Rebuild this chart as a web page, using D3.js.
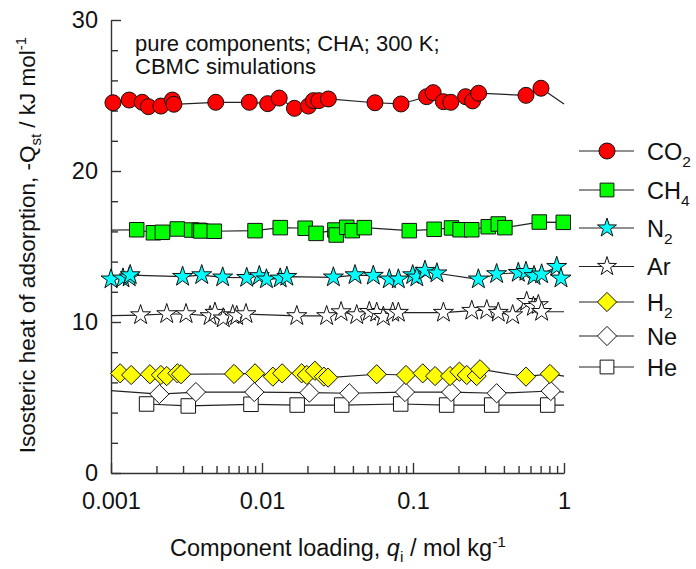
<!DOCTYPE html>
<html>
<head>
<meta charset="utf-8">
<script src="https://cdn.jsdelivr.net/npm/d3@7"></script>
<style>
  html, body { margin: 0; padding: 0; background: #fff; }
  svg { display: block; font-family: "Liberation Sans", Arial, sans-serif; }
</style>
</head>
<body>
<div id="chart"></div>
<script>
// gases, in legend order
const gases = ["CO2", "CH4", "N2", "Ar", "H2", "Ne", "He"];

// component loading q (mol/kg) and isosteric heat -Qst (kJ/mol)
const co2Load = [0.00103, 0.00132, 0.00161, 0.00177, 0.00214, 0.00255, 0.00261, 0.00494, 0.00824, 0.0109, 0.0130, 0.0164, 0.0203, 0.0219, 0.0238, 0.0275, 0.0560, 0.0833, 0.123, 0.136, 0.159, 0.178, 0.223, 0.248, 0.272, 0.560, 0.704];
const co2Heat = [24.52, 24.70, 24.55, 24.26, 24.30, 24.70, 24.42, 24.55, 24.55, 24.46, 24.83, 24.15, 24.30, 24.66, 24.66, 24.77, 24.52, 24.44, 24.92, 25.19, 24.59, 24.55, 24.92, 24.64, 25.15, 25.01, 25.48];

const ch4Load = [0.00148, 0.00191, 0.00219, 0.00275, 0.00342, 0.00384, 0.00394, 0.00483, 0.00899, 0.0132, 0.0193, 0.0228, 0.0304, 0.0310, 0.0364, 0.0396, 0.0476, 0.0945, 0.138, 0.180, 0.205, 0.245, 0.315, 0.367, 0.406, 0.686, 0.989];
const ch4Heat = [16.11, 15.91, 15.94, 16.16, 16.09, 16.07, 16.03, 16.01, 16.05, 16.25, 16.21, 15.87, 16.09, 15.76, 16.27, 16.05, 16.25, 16.05, 16.14, 16.23, 16.11, 16.11, 16.31, 16.49, 16.25, 16.62, 16.60];

const n2Load = [0.00100, 0.00120, 0.00132, 0.00134, 0.00298, 0.00399, 0.00549, 0.00792, 0.00960, 0.0107, 0.0132, 0.0146, 0.0297, 0.0413, 0.0546, 0.0697, 0.0800, 0.0995, 0.106, 0.120, 0.144, 0.271, 0.358, 0.498, 0.560, 0.633, 0.711, 0.895, 0.955];
const n2Heat = [12.83, 12.89, 12.96, 13.11, 13.00, 13.11, 12.96, 12.93, 13.05, 12.83, 12.89, 13.00, 12.96, 13.11, 13.07, 12.83, 12.83, 13.11, 12.96, 13.40, 13.23, 12.83, 13.18, 13.26, 13.33, 13.05, 13.16, 13.66, 12.89];

const arLoad = [0.00157, 0.00234, 0.00314, 0.00453, 0.00488, 0.00554, 0.00640, 0.00680, 0.00783, 0.0170, 0.0268, 0.0334, 0.0424, 0.0514, 0.0575, 0.0636, 0.0734, 0.0800, 0.159, 0.245, 0.308, 0.367, 0.457, 0.566, 0.627, 0.676, 0.711];
const arHeat = [10.46, 10.53, 10.53, 10.40, 10.62, 10.25, 10.46, 10.40, 10.53, 10.40, 10.40, 10.66, 10.46, 10.68, 10.62, 10.35, 10.62, 10.62, 10.62, 10.75, 10.79, 10.62, 10.46, 11.34, 11.01, 11.13, 10.68];

const h2Load = [0.00115, 0.00136, 0.00181, 0.00214, 0.00234, 0.00275, 0.00291, 0.00653, 0.00899, 0.0118, 0.0136, 0.0183, 0.0198, 0.0224, 0.0257, 0.0274, 0.0575, 0.0899, 0.116, 0.140, 0.176, 0.203, 0.227, 0.264, 0.278, 0.560, 0.807];
const h2Heat = [6.60, 6.49, 6.54, 6.49, 6.42, 6.60, 6.54, 6.56, 6.60, 6.38, 6.60, 6.60, 6.49, 6.77, 6.38, 6.32, 6.54, 6.49, 6.60, 6.42, 6.42, 6.71, 6.49, 6.42, 6.87, 6.38, 6.56];

const neLoad = [0.00209, 0.00365, 0.00889, 0.0206, 0.0379, 0.0885, 0.179, 0.358, 0.817];
const neHeat = [5.23, 5.36, 5.36, 5.32, 5.28, 5.36, 5.36, 5.28, 5.43];

const heLoad = [0.00172, 0.00325, 0.00845, 0.0171, 0.0337, 0.0829, 0.167, 0.332, 0.780];
const heHeat = [4.57, 4.44, 4.55, 4.50, 4.50, 4.57, 4.50, 4.50, 4.50];

// where the connecting line runs on past the first / last marker: [q, -Qst] or null
const lineStart = [null, [0.001, 16.09], null, [0.001, 10.42], null, [0.001, 5.45], null];
const lineEnd = [[1, 24.44], [1.1, 16.6], [1.1, 13.07], [1, 10.68], [1, 6.42], [1, 5.36], [1, 4.50]];

const xMajor = [0.001, 0.01, 0.1, 1];
const yMajor = [0, 10, 20, 30];

const loads = [co2Load, ch4Load, n2Load, arLoad, h2Load, neLoad, heLoad];
const heats = [co2Heat, ch4Heat, n2Heat, arHeat, h2Heat, neHeat, heHeat];

// look of each series
const fills = ["#ff0000", "#00ff00", "#00ffff", "#ffffff", "#ffff00", "#ffffff", "#ffffff"];
const shapes = ["circle", "square", "star", "star", "diamond", "diamond", "square"];

const width = 696, height = 569;
const x0 = 111, x1 = 564, yTop = 20, yBot = 473;

const svg = d3.select("#chart").append("svg")
  .attr("width", width)
  .attr("height", height);

const x = d3.scaleLog().domain([0.001, 1]).range([x0, x1]);
const y = d3.scaleLinear().domain([0, 30]).range([yBot, yTop]);

// marker path generator
function markerPath(shape, big) {
  const k = big ? 1 : 0.9;
  if (shape === "circle") return d3.symbol(d3.symbolCircle, Math.PI * 8 * 8)();
  if (shape === "square") return d3.symbol(d3.symbolSquare, 14.5 * 14.5 * k)();
  if (shape === "star") return d3.symbol(d3.symbolStar, (10.5 * 10.5) / 0.8908130915292852 * k)();
  // diamond = square turned 45 degrees
  const h = 9.6;
  return "M0," + (-h) + "L" + h + ",0L0," + h + "L" + (-h) + ",0Z";
}

// ---- axes ----
const xMinor = [];
xMajor.slice(0, -1).forEach(d => { for (let i = 2; i <= 9; i++) xMinor.push(d * i); });
const yMinor = d3.range(0, 31, 2).filter(v => v % 10 !== 0);

svg.append("g")
  .attr("transform", "translate(0," + yBot + ")")
  .call(d3.axisBottom(x).tickValues(xMinor).tickSize(-7).tickFormat(""))
  .call(g => g.select(".domain").remove());

svg.append("g")
  .attr("class", "x-axis")
  .attr("transform", "translate(0," + yBot + ")")
  .call(d3.axisBottom(x).tickValues(xMajor).tickSize(-10).tickSizeOuter(0)
    .tickPadding(19).tickFormat(d => String(d)));

svg.append("g")
  .attr("transform", "translate(" + x0 + ",0)")
  .call(d3.axisLeft(y).tickValues(yMinor).tickSize(-7).tickFormat(""))
  .call(g => g.select(".domain").remove());

svg.append("g")
  .attr("class", "y-axis")
  .attr("transform", "translate(" + x0 + ",0)")
  .call(d3.axisLeft(y).tickValues(yMajor).tickSize(-10).tickSizeOuter(0)
    .tickPadding(13).tickFormat(d3.format("d")));

svg.selectAll(".domain, .tick line")
  .attr("stroke", "#333")
  .attr("stroke-width", 1.4);

svg.selectAll(".tick text")
  .attr("font-size", 23.5)
  .attr("fill", "#111")
  .attr("font-family", "Liberation Sans, Arial, sans-serif");

// ---- series ----
const line = d3.line().x(d => x(d[0])).y(d => y(d[1]));

gases.forEach((gas, i) => {
  const pts = loads[i].map((q, j) => [q, heats[i][j]]).sort((a, b) => a[0] - b[0]);
  const path = pts.slice();
  if (lineStart[i]) path.unshift(lineStart[i]);
  if (lineEnd[i]) path.push(lineEnd[i]);

  svg.append("path")
    .datum(path)
    .attr("d", line)
    .attr("fill", "none")
    .attr("stroke", "#222")
    .attr("stroke-width", 1.2);
});

// markers drawn bottom series first so upper ones stay on top
gases.slice().reverse().forEach(gas => {
  const i = gases.indexOf(gas);
  const pts = loads[i].map((q, j) => [q, heats[i][j]]);
  svg.append("g")
    .selectAll("path")
    .data(pts)
    .join("path")
    .attr("transform", d => "translate(" + x(d[0]) + "," + y(d[1]) + ")")
    .attr("d", markerPath(shapes[i], true))
    .attr("fill", fills[i])
    .attr("stroke", "#111")
    .attr("stroke-width", 1);
});

// ---- legend ----
const legendY = [151, 190, 228, 266.5, 302, 336, 367];
const legend = svg.append("g");
gases.forEach((gas, i) => {
  const g = legend.append("g").attr("transform", "translate(0," + legendY[i] + ")");
  g.append("line")
    .attr("x1", 579).attr("x2", 634)
    .attr("stroke", "#222").attr("stroke-width", 1.2);
  g.append("path")
    .attr("transform", "translate(607,0)")
    .attr("d", markerPath(shapes[i], false))
    .attr("fill", fills[i])
    .attr("stroke", "#111")
    .attr("stroke-width", 1);
  const m = gas.match(/^([A-Za-z]+?)(\d*)$/);
  const t = g.append("text")
    .attr("x", 647).attr("y", 8.5)
    .attr("font-size", 23.5)
    .attr("fill", "#111");
  t.append("tspan").text(m[1]);
  if (m[2]) {
    t.append("tspan").attr("dy", 7).attr("font-size", 15.5).text(m[2]);
  }
});

// ---- annotation ----
const note = svg.append("text")
  .attr("x", 135).attr("font-size", 22).attr("fill", "#111");
note.append("tspan").attr("x", 135).attr("y", 51).text("pure components; CHA; 300 K;");
note.append("tspan").attr("x", 135).attr("y", 74).text("CBMC simulations");

// ---- axis titles ----
const xt = svg.append("text")
  .attr("x", 338).attr("y", 556)
  .attr("text-anchor", "middle")
  .attr("font-size", 23.5)
  .attr("fill", "#111");
xt.append("tspan").text("Component loading, ");
xt.append("tspan").attr("font-style", "italic").text("q");
xt.append("tspan").attr("dy", 6).attr("font-size", 15.5).text("i");
xt.append("tspan").attr("dy", -6).text(" / mol kg");
xt.append("tspan").attr("dy", -9).attr("font-size", 15.5).text("-1");

const yt = svg.append("text")
  .attr("transform", "translate(35,245) rotate(-90)")
  .attr("text-anchor", "middle")
  .attr("font-size", 22.5)
  .attr("fill", "#111");
yt.append("tspan").text("Isosteric heat of adsorption, -Q");
yt.append("tspan").attr("dy", 6).attr("font-size", 15).text("st");
yt.append("tspan").attr("dy", -6).text(" / kJ mol");
yt.append("tspan").attr("dy", -9).attr("font-size", 15).text("-1");
</script>
</body>
</html>
